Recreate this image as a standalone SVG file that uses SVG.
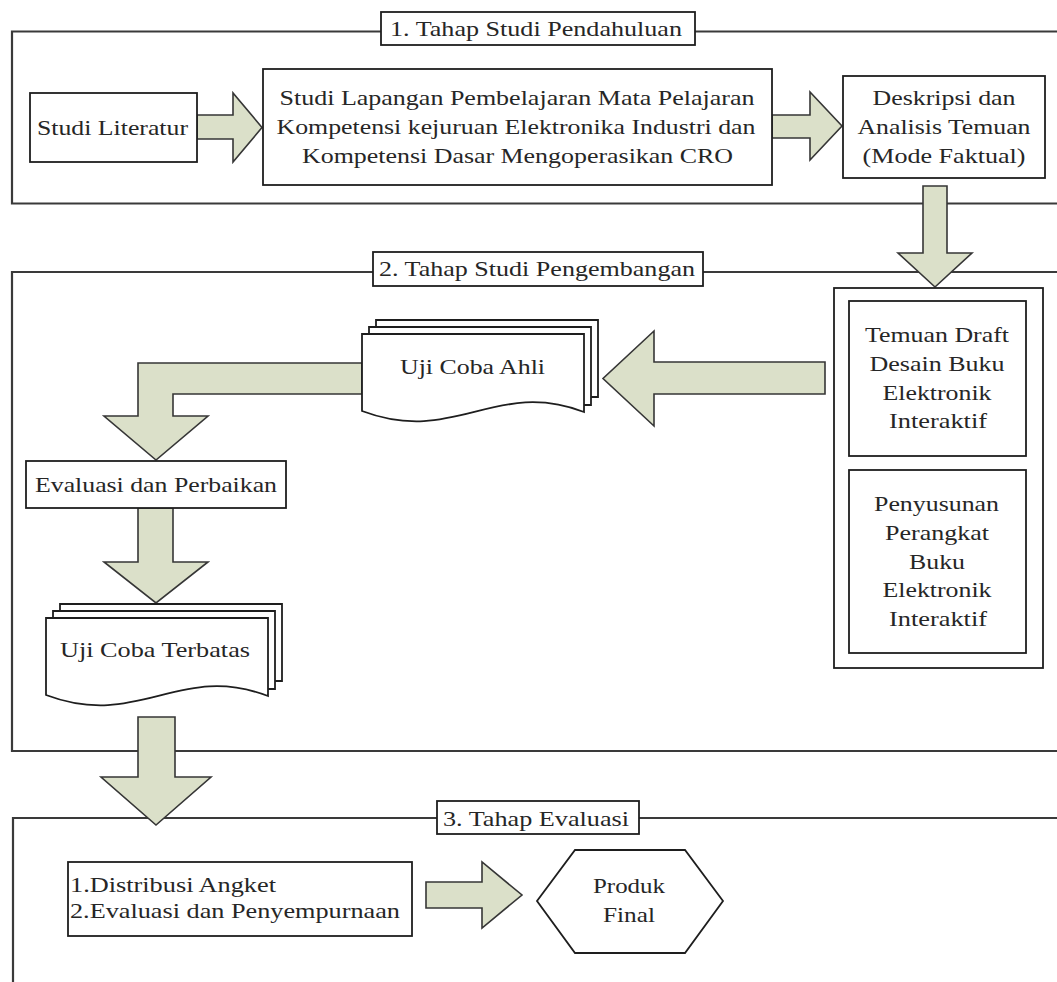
<svg xmlns="http://www.w3.org/2000/svg" xmlns:xlink="http://www.w3.org/1999/xlink" width="1057" height="982" viewBox="0 0 1057 982">
<style>
  .frame { fill: none; stroke: #3a3a3a; stroke-width: 2.2; }
  .box { fill: #ffffff; stroke: #1e1e1e; stroke-width: 1.8; }
  .arrow { fill: #dbe0c9; stroke: #363636; stroke-width: 1.6; stroke-linejoin: miter; }
  .t { font-family: "Liberation Serif", "Times New Roman", serif; font-size: 22px; fill: #262626; }
  .c { text-anchor: middle; }
</style>
<defs>
  <g id="docstack">
    <path class="box" d="M 14 0 V -14 H 236 V 63 H 229"/>
    <path class="box" d="M 7 0 V -7 H 229 V 71 H 222"/>
    <path class="box" d="M 0 0 H 222 V 78 C 133 44, 93 112, 0 77 Z"/>
  </g>
</defs>
<rect x="0" y="0" width="1057" height="982" fill="#ffffff"/>

<g id="frames">
  <path class="frame" d="M 1060 31.5 H 12 V 203.5 H 1060"/>
  <path class="frame" d="M 1060 272 H 12 V 751 H 1060"/>
  <path class="frame" d="M 1060 818 H 13 V 990"/>
</g>

<g id="connectors">
  <polygon class="arrow" points="197,115 233,115 233,93 262,127.5 233,162 233,139 197,139"/>
  <polygon class="arrow" points="772,115 810,115 810,92 842,126 810,160 810,138 772,138"/>
  <polygon class="arrow" points="923,186 947,186 947,253 972,253 935,287 898,253 923,253"/>
  <polygon class="arrow" points="825,362 825,394 654,394 654,426 603,378.5 654,331 654,362"/>
  <polygon class="arrow" points="362,363 138,363 138,416 104,416 156,460 208,416 173,416 173,394 362,394"/>
  <polygon class="arrow" points="138,508 173,508 173,562 208,562 156,603 104,562 138,562"/>
  <polygon class="arrow" points="138,717 175,717 175,777 211,777 156,825 101,777 138,777"/>
  <polygon class="arrow" points="426,882 482,882 482,862 522,895 482,928 482,908 426,908"/>
</g>

<g id="title1">
  <rect class="box" x="381" y="12" width="314" height="33"/>
  <text class="t c" x="536" y="36" textLength="292" lengthAdjust="spacingAndGlyphs">1. Tahap Studi Pendahuluan</text>
</g>
<g id="title2">
  <rect class="box" x="373" y="252" width="330" height="34"/>
  <text class="t c" x="537" y="276" textLength="316" lengthAdjust="spacingAndGlyphs">2. Tahap Studi Pengembangan</text>
</g>
<g id="title3">
  <rect class="box" x="437" y="801" width="202" height="33"/>
  <text class="t c" x="536" y="826" textLength="186" lengthAdjust="spacingAndGlyphs">3. Tahap Evaluasi</text>
</g>

<g id="studi-literatur">
  <rect class="box" x="30" y="93" width="167" height="69"/>
  <text class="t c" x="112.5" y="135" textLength="151" lengthAdjust="spacingAndGlyphs">Studi Literatur</text>
</g>

<g id="studi-lapangan">
  <rect class="box" x="263" y="69" width="509" height="116"/>
  <text class="t c" x="517" y="105" textLength="475" lengthAdjust="spacingAndGlyphs">Studi Lapangan Pembelajaran Mata Pelajaran</text>
  <text class="t c" x="516" y="134" textLength="479" lengthAdjust="spacingAndGlyphs">Kompetensi kejuruan Elektronika Industri dan</text>
  <text class="t c" x="517.5" y="163" textLength="431" lengthAdjust="spacingAndGlyphs">Kompetensi Dasar Mengoperasikan CRO</text>
</g>

<g id="deskripsi">
  <rect class="box" x="843" y="76" width="202" height="102"/>
  <text class="t c" x="944" y="105" textLength="143" lengthAdjust="spacingAndGlyphs">Deskripsi dan</text>
  <text class="t c" x="944" y="134" textLength="173" lengthAdjust="spacingAndGlyphs">Analisis Temuan</text>
  <text class="t c" x="944" y="163" textLength="163" lengthAdjust="spacingAndGlyphs">(Mode Faktual)</text>
</g>

<g id="container">
  <rect class="box" x="834" y="288" width="209" height="380"/>
</g>
<g id="temuan-draft">
  <rect class="box" x="849" y="301" width="177" height="155"/>
  <text class="t c" x="937" y="342" textLength="144" lengthAdjust="spacingAndGlyphs">Temuan Draft</text>
  <text class="t c" x="937" y="371" textLength="135" lengthAdjust="spacingAndGlyphs">Desain Buku</text>
  <text class="t c" x="937" y="400" textLength="109" lengthAdjust="spacingAndGlyphs">Elektronik</text>
  <text class="t c" x="938" y="428" textLength="98" lengthAdjust="spacingAndGlyphs">Interaktif</text>
</g>
<g id="penyusunan">
  <rect class="box" x="849" y="470" width="177" height="183"/>
  <text class="t c" x="936.5" y="511" textLength="125" lengthAdjust="spacingAndGlyphs">Penyusunan</text>
  <text class="t c" x="937" y="540" textLength="104" lengthAdjust="spacingAndGlyphs">Perangkat</text>
  <text class="t c" x="937" y="569" textLength="56" lengthAdjust="spacingAndGlyphs">Buku</text>
  <text class="t c" x="937" y="597" textLength="109" lengthAdjust="spacingAndGlyphs">Elektronik</text>
  <text class="t c" x="938" y="626" textLength="98" lengthAdjust="spacingAndGlyphs">Interaktif</text>
</g>

<g id="uji-coba-ahli">
  <use xlink:href="#docstack" href="#docstack" transform="translate(362,334)"/>
  <text class="t c" x="472.5" y="374" textLength="145" lengthAdjust="spacingAndGlyphs">Uji Coba Ahli</text>
</g>

<g id="evaluasi-perbaikan">
  <rect class="box" x="26" y="461" width="260" height="47"/>
  <text class="t c" x="156" y="492" textLength="242" lengthAdjust="spacingAndGlyphs">Evaluasi dan Perbaikan</text>
</g>

<g id="uji-coba-terbatas">
  <use xlink:href="#docstack" href="#docstack" transform="translate(46,618)"/>
  <text class="t c" x="155" y="657" textLength="190" lengthAdjust="spacingAndGlyphs">Uji Coba Terbatas</text>
</g>

<g id="distribusi">
  <rect class="box" x="68" y="862" width="344" height="74"/>
  <text class="t" x="70" y="892" textLength="206" lengthAdjust="spacingAndGlyphs">1.Distribusi Angket</text>
  <text class="t" x="70" y="918" textLength="330" lengthAdjust="spacingAndGlyphs">2.Evaluasi dan Penyempurnaan</text>
</g>

<g id="produk-final">
  <polygon class="box" points="575,850 685,850 723,901 685,953 575,953 537,901"/>
  <text class="t c" x="629" y="893" textLength="72" lengthAdjust="spacingAndGlyphs">Produk</text>
  <text class="t c" x="629" y="922" textLength="52" lengthAdjust="spacingAndGlyphs">Final</text>
</g>
</svg>
